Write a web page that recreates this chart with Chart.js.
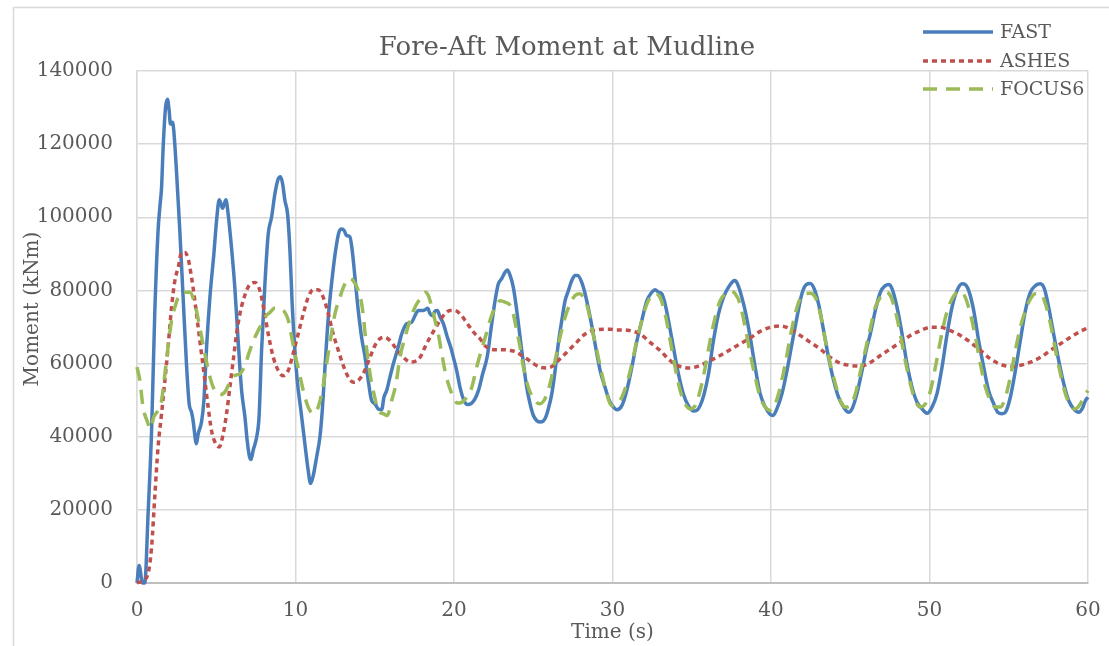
<!DOCTYPE html>
<html>
<head>
<meta charset="utf-8">
<title>Fore-Aft Moment at Mudline</title>
<script src="https://cdn.jsdelivr.net/npm/chart.js@4.4.1/dist/chart.umd.min.js"></script>
<style>
  html, body { margin: 0; padding: 0; background: #fff; }
  #wrap { width: 1109px; height: 646px; }
</style>
</head>
<body>
<div id="wrap"><canvas id="momentChart" width="1109" height="646"></canvas></div>
<script>
// axis ticks
const timeTicks = [0, 10, 20, 30, 40, 50, 60];
const momentTicks = [0, 20000, 40000, 60000, 80000, 100000, 120000, 140000];

// FAST
const fastTime = [0, 0.13, 0.35, 0.49, 0.70, 0.92, 1.12, 1.33, 1.44, 1.55, 1.65, 1.80, 1.92, 2.03, 2.11, 2.24, 2.32, 2.49, 2.70, 2.91,
  3.12, 3.29, 3.44, 3.54, 3.69, 3.75, 3.86, 4.07, 4.22, 4.39, 4.60, 4.85, 5.02, 5.19, 5.40, 5.61, 5.75, 5.96, 6.17, 6.38,
  6.60, 6.81, 6.95, 7.10, 7.20, 7.33, 7.55, 7.70, 7.86, 8.07, 8.28, 8.49, 8.70, 8.91, 9.06, 9.19, 9.33, 9.50, 9.65, 9.79,
  9.96, 10.13, 10.34, 10.59, 10.80, 10.95, 11.12, 11.33, 11.54, 11.69, 11.86, 12.07, 12.32, 12.53, 12.74, 12.91, 13.07, 13.22, 13.43, 13.58,
  13.75, 13.96, 14.17, 14.38, 14.59, 14.80, 15.01, 15.22, 15.44, 15.58, 15.75, 15.96, 16.17, 16.48, 16.70, 17.01, 17.33, 17.54, 17.75, 17.96,
  18.17, 18.34, 18.49, 18.65, 18.80, 18.95, 19.12, 19.33, 19.58, 19.79, 19.96, 20.17, 20.38, 20.63, 20.84, 21.12, 21.33, 21.54, 21.81, 22.10,
  22.38, 22.59, 22.80, 23.01, 23.22, 23.37, 23.54, 23.74, 23.96, 24.17, 24.38, 24.59, 24.80, 25.01, 25.22, 25.47, 25.74, 25.95, 26.17, 26.38,
  26.58, 26.80, 27.01, 27.22, 27.43, 27.64, 27.81, 28.06, 28.27, 28.59, 28.90, 29.22, 29.53, 29.85, 30.06, 30.27, 30.59, 30.90, 31.22, 31.53,
  31.85, 32.17, 32.48, 32.69, 32.90, 33.11, 33.32, 33.53, 33.84, 34.16, 34.47, 34.79, 35.11, 35.32, 35.53, 35.78, 36.06, 36.37, 36.69, 37.00,
  37.32, 37.60, 37.74, 37.95, 38.16, 38.37, 38.69, 39.00, 39.32, 39.64, 39.91, 40.12, 40.37, 40.69, 41.01, 41.32, 41.64, 41.95, 42.22, 42.48,
  42.73, 43.00, 43.32, 43.63, 43.95, 44.26, 44.58, 44.89, 45.11, 45.42, 45.74, 46.05, 46.26, 46.58, 46.90, 47.21, 47.42, 47.64, 47.95, 48.27,
  48.58, 48.90, 49.22, 49.53, 49.84, 50.16, 50.47, 50.79, 51.11, 51.42, 51.74, 52.06, 52.26, 52.47, 52.79, 53.10, 53.42, 53.73, 54.05, 54.30,
  54.58, 54.79, 55.10, 55.42, 55.73, 56.05, 56.37, 56.68, 57.00, 57.25, 57.52, 57.83, 58.15, 58.47, 58.78, 59.10, 59.41, 59.63, 59.84, 60.00];
const fastMoment = [0, 4800, 0, 0, 19000, 41700, 73700, 96400, 102700, 108200, 119100, 130000, 132300, 129100, 125500, 126000, 123700, 112700, 96400, 78100,
  60000, 49000, 46700, 44400, 39000, 38100, 40800, 44000, 49900, 64500, 78100, 90000, 99100, 104800, 102500, 104800, 100900, 91800, 80900, 66300,
  52600, 45400, 39000, 34500, 33800, 36300, 39900, 45400, 63600, 81800, 95500, 100000, 106400, 110500, 111100, 109100, 104600, 100900, 90900, 76300,
  63600, 54500, 47200, 38100, 30800, 27200, 29400, 34400, 39900, 47200, 59000, 72700, 83600, 90900, 95900, 96800, 96400, 95000, 94700, 90900,
  83600, 74500, 67200, 62000, 55400, 49900, 49000, 47600, 47400, 50800, 52600, 56300, 59900, 64500, 68100, 70900, 71300, 73100, 74500, 74500,
  74700, 75100, 73600, 73100, 74300, 74500, 72700, 70900, 67200, 64500, 61700, 58100, 53500, 49900, 48800, 49200, 50400, 52600, 57200, 62000,
  70900, 77200, 81800, 83200, 85000, 85600, 84100, 80900, 74500, 67200, 60000, 53500, 49000, 45800, 44400, 44000, 44900, 47600, 51700, 58100,
  65400, 71800, 77200, 80000, 82700, 84100, 84100, 82200, 79100, 72700, 65400, 58100, 53500, 49400, 48100, 47400, 48500, 52600, 59000, 66000,
  71800, 77200, 79500, 80200, 79500, 79100, 76300, 71800, 64500, 57200, 51700, 48500, 47000, 47200, 48500, 51700, 57200, 66300, 73600, 78100,
  80900, 82500, 82700, 81100, 78100, 74500, 67200, 59000, 51700, 48100, 46300, 45800, 47600, 51700, 58100, 65400, 72700, 79100, 81600, 81900,
  80400, 76300, 69000, 61700, 55400, 50800, 48100, 46700, 47600, 51700, 58000, 64500, 68000, 74500, 79500, 81300, 81600, 80400, 75400, 68100,
  59900, 53500, 49400, 47600, 46400, 48100, 51700, 59000, 68100, 75400, 80000, 81800, 81600, 80000, 74500, 66300, 59000, 52600, 49000, 46700,
  46300, 46700, 50800, 58100, 66300, 74500, 79500, 81300, 81800, 80400, 75400, 68100, 60900, 54500, 49900, 47600, 46700, 47600, 49900, 50800];

// ASHES
const ashesTime = [0, 0.38, 0.70, 0.92, 1.12, 1.33, 1.55, 1.76, 1.96, 2.18, 2.39, 2.60, 2.81, 3.02, 3.23, 3.44, 3.65, 3.86, 4.07, 4.28,
  4.49, 4.70, 4.96, 5.19, 5.44, 5.65, 5.86, 6.07, 6.28, 6.49, 6.70, 7.02, 7.44, 7.75, 8.02, 8.28, 8.60, 8.91, 9.22, 9.54,
  9.85, 10.17, 10.49, 10.80, 11.12, 11.43, 11.75, 12.07, 12.38, 12.70, 13.01, 13.33, 13.64, 13.96, 14.27, 14.70, 15.01, 15.33, 15.64, 15.96,
  16.28, 16.59, 16.91, 17.22, 17.54, 17.86, 18.17, 18.49, 18.80, 19.12, 19.43, 19.75, 20.06, 20.38, 20.70, 21.01, 21.33, 21.64, 21.95, 22.27,
  22.70, 23.11, 23.54, 23.96, 24.27, 24.59, 25.01, 25.43, 25.85, 26.17, 26.48, 26.90, 27.32, 27.74, 28.16, 28.59, 29.01, 29.43, 29.85, 30.27,
  30.69, 31.11, 31.74, 32.37, 33.00, 33.64, 34.27, 34.90, 35.53, 36.16, 36.79, 37.42, 38.05, 38.69, 39.32, 39.95, 40.58, 41.21, 41.84, 42.48,
  43.11, 43.74, 44.37, 45.00, 45.63, 46.26, 46.90, 47.53, 48.16, 48.79, 49.42, 50.06, 50.69, 51.32, 51.95, 52.58, 53.21, 53.84, 54.47, 55.10,
  55.73, 56.37, 57.00, 57.63, 58.26, 58.89, 59.52, 60.00];
const ashesMoment = [0, 700, 2600, 9800, 23500, 37200, 46300, 55400, 64500, 75400, 82700, 86300, 90400, 90400, 88600, 83600, 77200, 69900, 62700, 55400,
  48100, 41700, 38100, 37200, 40800, 46300, 53500, 60800, 68100, 73600, 77200, 81000, 82200, 80000, 74500, 68100, 61700, 58100, 56700, 58100,
  62700, 68100, 73600, 78100, 80200, 80200, 78100, 73600, 68100, 63600, 59500, 56300, 54900, 55400, 57200, 61700, 64900, 66800, 67200, 66300,
  64500, 62700, 61300, 60400, 60600, 61700, 64500, 67200, 69500, 71800, 73600, 74500, 74500, 73600, 71800, 69900, 68100, 66800, 64900, 64000,
  63800, 63800, 63600, 63100, 62200, 61300, 60000, 59000, 58800, 59200, 60400, 62200, 64000, 65800, 67700, 68800, 69200, 69400, 69400, 69200,
  69200, 69000, 68100, 65800, 63600, 60800, 59200, 58800, 59500, 60800, 62200, 63800, 65400, 67000, 68800, 69900, 70300, 69500, 67700, 65800,
  64000, 61700, 60100, 59500, 59300, 60300, 62200, 64000, 65800, 67700, 69000, 69900, 69900, 69000, 67700, 65800, 63600, 61300, 59800, 59200,
  59500, 60400, 61700, 63600, 65400, 67200, 68800, 69800];

// FOCUS6
const focusTime = [0, 0.18, 0.38, 0.63, 0.85, 1.06, 1.33, 1.55, 1.76, 1.96, 2.18, 2.39, 2.60, 2.91, 3.33, 3.65, 3.96, 4.28, 4.60, 4.91,
  5.23, 5.54, 5.86, 6.17, 6.49, 6.81, 7.12, 7.44, 7.75, 8.07, 8.39, 8.70, 9.02, 9.33, 9.55, 9.76, 9.96, 10.21, 10.49, 10.80,
  11.12, 11.43, 11.69, 11.96, 12.23, 12.49, 12.80, 13.12, 13.37, 13.64, 13.96, 14.21, 14.50, 14.70, 14.95, 15.22, 15.54, 15.79, 16.07, 16.34,
  16.59, 16.91, 17.22, 17.54, 17.86, 18.17, 18.38, 18.60, 18.80, 19.01, 19.23, 19.43, 19.64, 19.96, 20.21, 20.49, 20.80, 21.12, 21.43, 21.75,
  22.06, 22.27, 22.59, 22.91, 23.22, 23.54, 23.74, 23.96, 24.17, 24.38, 24.69, 25.01, 25.39, 25.74, 26.06, 26.38, 26.69, 27.01, 27.32, 27.64,
  27.95, 28.27, 28.48, 28.69, 29.01, 29.33, 29.64, 29.96, 30.27, 30.59, 30.90, 31.22, 31.53, 31.74, 32.06, 32.37, 32.69, 33.00, 33.32, 33.64,
  33.95, 34.27, 34.58, 34.90, 35.22, 35.53, 35.85, 36.16, 36.48, 36.79, 37.11, 37.42, 37.74, 38.05, 38.37, 38.69, 39.00, 39.32, 39.64, 39.95,
  40.27, 40.58, 40.90, 41.21, 41.53, 41.84, 42.16, 42.48, 42.80, 43.11, 43.43, 43.74, 44.06, 44.37, 44.69, 45.00, 45.32, 45.63, 45.95, 46.26,
  46.58, 46.90, 47.21, 47.53, 47.84, 48.16, 48.47, 48.79, 49.10, 49.42, 49.74, 50.06, 50.37, 50.69, 51.01, 51.32, 51.64, 51.95, 52.26, 52.58,
  52.90, 53.21, 53.53, 53.84, 54.16, 54.47, 54.79, 55.10, 55.42, 55.73, 56.05, 56.37, 56.68, 57.00, 57.32, 57.63, 57.95, 58.26, 58.58, 58.89,
  59.21, 59.52, 59.77, 60.00];
const focusMoment = [59000, 55400, 48100, 44400, 42200, 45400, 47200, 49900, 57200, 64500, 71800, 75400, 78100, 79500, 79500, 76300, 69900, 62700, 56300, 52600,
  51500, 52200, 54900, 56700, 57200, 59500, 63600, 67200, 69900, 72700, 74000, 75200, 75000, 74000, 71800, 67200, 62700, 58100, 52600, 48100,
  46300, 48100, 52600, 59900, 67200, 73600, 78100, 81800, 83300, 82700, 80000, 75400, 63600, 57200, 51700, 47200, 46300, 45800, 49900, 54500,
  61700, 67200, 71800, 75400, 77700, 79500, 78600, 75400, 71800, 68100, 62700, 58100, 54500, 50800, 49200, 49400, 50800, 53500, 59000, 64000,
  68500, 71800, 75400, 77200, 76800, 75900, 73600, 69000, 64500, 59000, 53500, 50400, 49000, 50400, 54500, 60800, 67200, 72700, 76300, 78600,
  79100, 77200, 74500, 69900, 63600, 57200, 51700, 48500, 49000, 50800, 54500, 59900, 66300, 69900, 75000, 78100, 79100, 78100, 73600, 66300,
  59000, 52600, 49000, 47600, 48500, 52600, 59000, 66300, 72700, 77200, 79100, 79800, 79100, 76300, 69900, 62700, 56300, 50800, 48100, 47200,
  49000, 53500, 59900, 67200, 73600, 77700, 79100, 79200, 78100, 73600, 66300, 59900, 54500, 49900, 48100, 48500, 51700, 57600, 63600, 69500,
  75400, 78100, 79500, 78600, 74500, 68100, 60800, 54500, 49900, 48100, 49000, 52600, 59000, 66300, 72700, 76800, 79100, 79800, 78100, 73600,
  67200, 59900, 53500, 49900, 48100, 48100, 50800, 56300, 63600, 69900, 74500, 77700, 79100, 79100, 76300, 70900, 63600, 57200, 51700, 48500,
  47600, 49000, 51300, 52600];

const seriesNames = ["FAST", "ASHES", "FOCUS6"];
const seriesColors = ["#4a7ebb", "#c0504d", "#9bbb59"];
const seriesDash = [[], [5, 4], [14, 9]];

function toPoints(ts, vs) {
  return ts.map((t, i) => ({ x: t, y: vs[i] }));
}

const textColor = "#595959";
const serif = "'DejaVu Serif', 'Liberation Serif', serif";

// title, axis titles, legend and the outer frame
const decor = {
  id: "decor",
  beforeDraw(chart) {
    const ctx = chart.ctx;
    ctx.save();
    ctx.fillStyle = "#fff";
    ctx.fillRect(0, 0, chart.width, chart.height);
    ctx.strokeStyle = "#d9d9d9";
    ctx.lineWidth = 1.5;
    ctx.beginPath();
    ctx.moveTo(13.5, chart.height);
    ctx.lineTo(13.5, 7.5);
    ctx.lineTo(chart.width, 7.5);
    ctx.stroke();
    ctx.restore();
  },
  afterDraw(chart) {
    const ctx = chart.ctx;
    const area = chart.chartArea;
    ctx.save();
    ctx.fillStyle = textColor;
    ctx.textAlign = "center";
    ctx.textBaseline = "middle";
    ctx.font = "26px " + serif;
    ctx.fillText("Fore-Aft Moment at Mudline", 567, 48);

    ctx.font = "20px " + serif;
    ctx.fillText("Time (s)", (area.left + area.right) / 2, 633);

    ctx.save();
    ctx.translate(33, 309);
    ctx.rotate(-Math.PI / 2);
    ctx.fillText("Moment (kNm)", 0, 0);
    ctx.restore();

    // legend
    const rows = [32, 61, 89];
    ctx.font = "19px " + serif;
    ctx.textAlign = "left";
    chart.data.datasets.forEach((ds, i) => {
      ctx.strokeStyle = ds.borderColor;
      ctx.lineWidth = ds.borderWidth;
      ctx.setLineDash(ds.borderDash);
      ctx.beginPath();
      ctx.moveTo(923, rows[i]);
      ctx.lineTo(993, rows[i]);
      ctx.stroke();
      ctx.setLineDash([]);
      ctx.fillText(ds.label, 1000, rows[i] + 1);
    });
    ctx.restore();
  }
};

window.onload = function () {
  const ctx = document.getElementById("momentChart").getContext("2d");
  const pointSets = [
    toPoints(fastTime, fastMoment),
    toPoints(ashesTime, ashesMoment),
    toPoints(focusTime, focusMoment)
  ];

  new Chart(ctx, {
    type: "line",
    data: {
      datasets: seriesNames.map((name, i) => ({
        label: name,
        data: pointSets[i],
        borderColor: seriesColors[i],
        borderWidth: 3.5,
        borderDash: seriesDash[i],
        pointRadius: 0,
        cubicInterpolationMode: "monotone",
        fill: false,
        clip: false,
        order: 3 - i
      }))
    },
    options: {
      responsive: false,
      animation: false,
      layout: { padding: { top: 71, right: 21, left: 0, bottom: 0 } },
      plugins: {
        legend: { display: false },
        title: { display: false },
        tooltip: { enabled: false }
      },
      scales: {
        x: {
          type: "linear",
          min: timeTicks[0],
          max: timeTicks[timeTicks.length - 1],
          afterBuildTicks: (scale) => { scale.ticks = timeTicks.map(v => ({ value: v })); },
          afterFit: (scale) => {
            scale.height = 63;
            scale.paddingLeft = 0;
            scale.paddingRight = 0;
          },
          grid: { color: "#d9d9d9", lineWidth: 1.5, drawTicks: false },
          border: { color: "#bfbfbf", width: 2 },
          ticks: { color: textColor, font: { family: serif, size: 20 }, padding: 16, maxRotation: 0 }
        },
        y: {
          min: momentTicks[0],
          max: momentTicks[momentTicks.length - 1],
          afterBuildTicks: (scale) => { scale.ticks = momentTicks.map(v => ({ value: v })); },
          afterFit: (scale) => {
            scale.width = 137;
            scale.paddingTop = 0;
            scale.paddingBottom = 0;
          },
          grid: { color: "#d9d9d9", lineWidth: 1.5, drawTicks: false },
          border: { color: "#d9d9d9", width: 1.5 },
          ticks: {
            color: textColor,
            font: { family: serif, size: 20 },
            padding: 24,
            callback: (v) => String(v)
          }
        }
      }
    },
    plugins: [decor]
  });
};
</script>
</body>
</html>
